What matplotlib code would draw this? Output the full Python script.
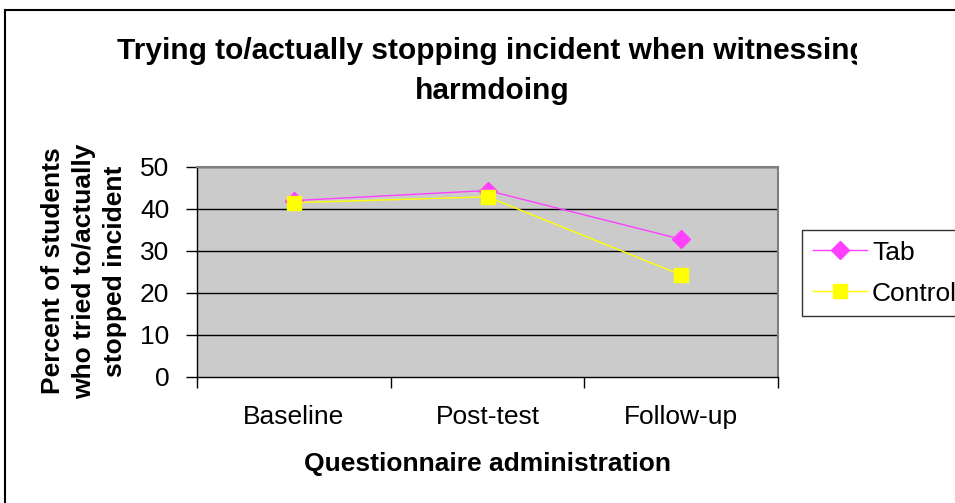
import matplotlib.pyplot as plt
import matplotlib.patches as patches
from matplotlib.transforms import Bbox

plt.rcParams['font.family'] = ['Liberation Sans', 'DejaVu Sans']

categories = ['Baseline', 'Post-test', 'Follow-up']
tab = [42.0, 44.4, 32.8]
control = [41.5, 42.9, 24.3]

W, H = 955, 503
fig = plt.figure(figsize=(W / 100, H / 100), dpi=100)

# outer chart border (runs off the right and bottom edges)
fig.patches.append(patches.Rectangle((5 / W, -0.2), 2, 1 - 10 / H + 0.2,
                                     transform=fig.transFigure, fill=False,
                                     lw=1.5, ec='black'))

ax = fig.add_axes([197 / W, 1 - 377 / H, 581 / W, 210 / H])
ax.set_facecolor('#cbcbcb')

x = [0.5, 1.5, 2.5]
ax.plot(x, tab, color='#ff40ff', lw=1, marker='D', ms=9,
        mfc='#ff40ff', mec='#ff40ff', label='Tab', zorder=3)
ax.plot(x, control, color='#ffff00', lw=1, marker='s', ms=10,
        mfc='#ffff00', mec='#ffff00', label='Control', zorder=4)

ax.set_xlim(0, 3)
ax.set_ylim(0, 50)
ax.set_yticks(range(0, 51, 10))
for yv in range(10, 51, 10):
    ax.axhline(yv, color='black', lw=1, zorder=1)

ax.set_xticks([0, 1, 2, 3])
ax.set_xticklabels([])
ax.set_xticks(x, minor=True)
ax.set_xticklabels(categories, minor=True, fontsize=19)
ax.tick_params(axis='x', which='minor', length=0, pad=20)
ax.tick_params(axis='x', which='major', length=8, width=1, direction='out')
ax.tick_params(axis='y', length=8, width=1, direction='out', labelsize=19, pad=12)

for s in ['top', 'right']:
    ax.spines[s].set_color('#808080')
    ax.spines[s].set_linewidth(1.5)
for s in ['left', 'bottom']:
    ax.spines[s].set_color('black')
    ax.spines[s].set_linewidth(1)

ax.set_xlabel('Questionnaire administration', fontsize=19, fontweight='bold', labelpad=17)
fig.text(84 / W, 1 - 271 / H, 'Percent of students\nwho tried to/actually\nstopped incident',
         rotation=90, ha='center', va='center', fontsize=19, fontweight='bold',
         linespacing=1.38, multialignment='center')

t = fig.text(492 / W, 1 - 71 / H,
             'Trying to/actually stopping incident when witnessing\nharmdoing',
             ha='center', va='center', fontsize=21.5, fontweight='bold',
             linespacing=1.55)
t.set_clip_box(Bbox.from_extents(0, 0, 857, H))

leg = ax.legend(loc='upper left', bbox_to_anchor=(802 / W, 1 - 230 / H),
                bbox_transform=fig.transFigure, fontsize=19, frameon=True,
                fancybox=False, edgecolor='black', handlelength=2.05,
                handletextpad=0.2, labelspacing=0.65, borderpad=0.4,
                borderaxespad=0)
leg.get_frame().set_linewidth(1)

fig.savefig('out.png', dpi=100, facecolor='white')
